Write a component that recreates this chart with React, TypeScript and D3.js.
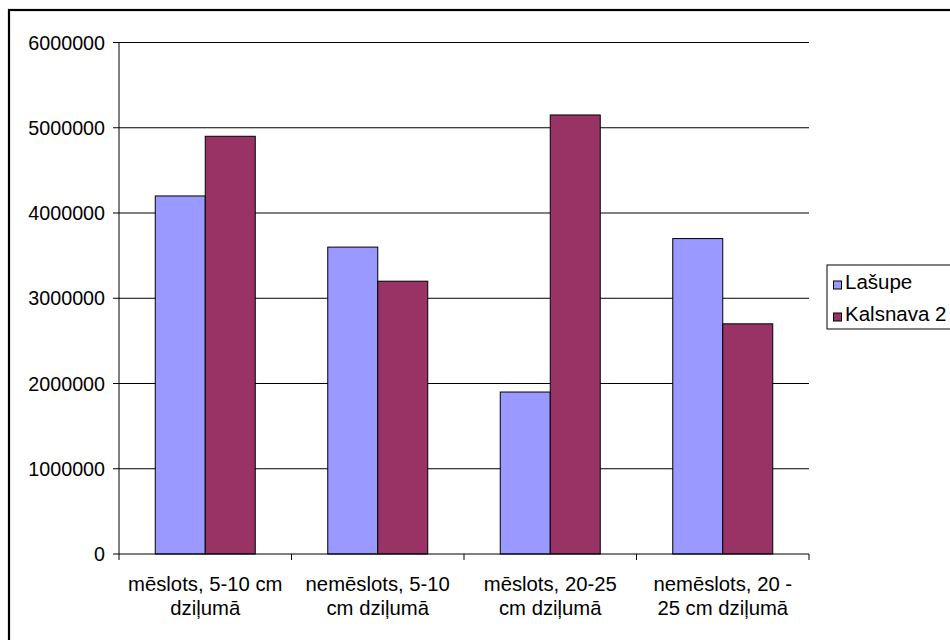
import React from "react";
import * as d3 from "d3";

const categories = [
  ["mēslots, 5-10 cm", "dziļumā"],
  ["nemēslots, 5-10", "cm dziļumā"],
  ["mēslots, 20-25", "cm dziļumā"],
  ["nemēslots, 20 -", "25 cm dziļumā"],
];
const seriesNames = ["Lašupe", "Kalsnava 2"];
const lasupe = [4200000, 3600000, 1900000, 3700000];
const kalsnava = [4900000, 3200000, 5150000, 2700000];
const yTicks = [0, 1000000, 2000000, 3000000, 4000000, 5000000, 6000000];
const colors = ["#9999FF", "#993366"];

const W = 950;
const H = 640;
const left = 119;
const right = 809;
const top = 42.5;
const bottom = 554;
const font = "'Liberation Sans', Arial, sans-serif";

export default function App() {
  const y = d3.scaleLinear().domain([0, 6000000]).range([bottom, top]);
  const x = d3
    .scaleBand<number>()
    .domain(categories.map((_, i) => i))
    .range([left, right])
    .paddingInner(0)
    .paddingOuter(0);
  const catW = x.bandwidth();
  const barW = catW / 3.45;
  const offset = (catW - 2 * barW) / 2;
  const series = [lasupe, kalsnava];

  return (
    <svg
      width={W}
      height={H}
      style={{ position: "absolute", left: 0, top: 0, background: "#fff" }}
      fontFamily={font}
    >
      <rect x={0} y={0} width={W} height={H} fill="#fff" />
      <rect x={9} y={10} width={W + 20} height={H + 20} fill="none" stroke="#000" strokeWidth={2.2} />

      {/* gridlines */}
      {yTicks.filter((t) => t > 0).map((t) => (
        <line key={t} x1={left} x2={right} y1={y(t)} y2={y(t)} stroke="#000" strokeWidth={1} />
      ))}

      {/* bars */}
      {series.map((vals, s) =>
        vals.map((v, i) => (
          <rect
            key={`${s}-${i}`}
            x={(x(i) as number) + offset + s * barW}
            y={y(v)}
            width={barW}
            height={bottom - y(v)}
            fill={colors[s]}
            stroke="#000"
            strokeWidth={1}
          />
        ))
      )}

      {/* y axis */}
      <line x1={left} x2={left} y1={top} y2={bottom} stroke="#000" strokeWidth={1} />
      {yTicks.map((t) => (
        <g key={t}>
          <line x1={left - 6} x2={left} y1={y(t)} y2={y(t)} stroke="#000" strokeWidth={1} />
          <text x={105} y={y(t)} dy="0.36em" textAnchor="end" fontSize={19.7} fill="#000">
            {t}
          </text>
        </g>
      ))}

      {/* x axis */}
      <line x1={left} x2={right} y1={bottom} y2={bottom} stroke="#000" strokeWidth={1} />
      {d3.range(categories.length + 1).map((i) => {
        const xx = left + i * catW;
        return <line key={i} x1={xx} x2={xx} y1={bottom} y2={bottom + 6} stroke="#000" strokeWidth={1} />;
      })}
      {categories.map((lines, i) => (
        <text key={i} textAnchor="middle" fontSize={20.3} fill="#000">
          {lines.map((l, j) => (
            <tspan key={j} x={(x(i) as number) + catW / 2} y={591 + j * 24}>
              {l}
            </tspan>
          ))}
        </text>
      ))}

      {/* legend */}
      <rect x={827} y={265} width={140} height={64} fill="#fff" stroke="#000" strokeWidth={1} />
      {seriesNames.map((n, i) => (
        <g key={n}>
          <rect x={833.5} y={281 + i * 32} width={8} height={8} fill={colors[i]} stroke="#000" strokeWidth={1} />
          <text x={845} y={289 + i * 32} fontSize={20.5} fill="#000">
            {n}
          </text>
        </g>
      ))}
    </svg>
  );
}
